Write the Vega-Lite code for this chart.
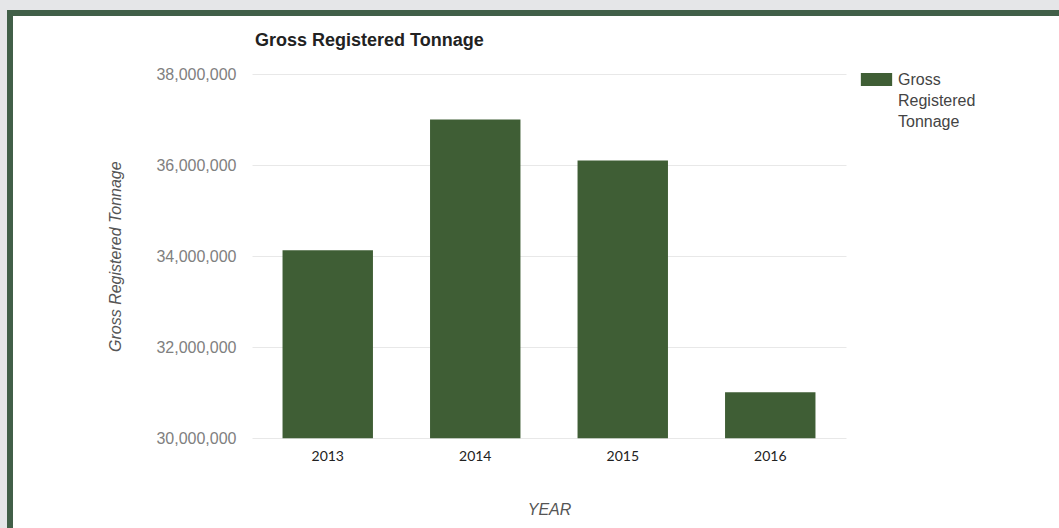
{
  "$schema": "https://vega.github.io/schema/vega-lite/v6.json",
  "autosize": "none",
  "width": 1049,
  "height": 515,
  "padding": {"left": 10, "top": 13, "right": 0, "bottom": 0},
  "background": "#e5e6e8",
  "data": {
    "values": [
      {"year": "2013", "tonnage": 34130000, "series": "Gross Registered Tonnage"},
      {"year": "2014", "tonnage": 37000000, "series": "Gross Registered Tonnage"},
      {"year": "2015", "tonnage": 36100000, "series": "Gross Registered Tonnage"},
      {"year": "2016", "tonnage": 31010000, "series": "Gross Registered Tonnage"}
    ]
  },
  "title": {
    "text": "Gross Registered Tonnage",
    "anchor": "start",
    "frame": "group",
    "dx": 245,
    "dy": 41,
    "font": "Liberation Sans",
    "fontSize": 18,
    "fontWeight": "bold",
    "color": "#222222"
  },
  "mark": {"type": "bar", "color": "#3f5e35"},
  "encoding": {
    "x": {
      "field": "year",
      "type": "nominal",
      "scale": {"range": [242, 836], "paddingInner": 0.387, "paddingOuter": 0.207},
      "axis": {
        "offset": -89,
        "labelAngle": 0,
        "domain": false,
        "ticks": false,
        "labelPadding": 10,
        "labelFont": "Lato",
        "labelFontSize": 14,
        "labelColor": "#222222",
        "title": "YEAR",
        "titleFont": "Liberation Sans",
        "titleFontSize": 16,
        "titleFontStyle": "italic",
        "titleFontWeight": "normal",
        "titleColor": "#555555",
        "titlePadding": 38
      }
    },
    "y": {
      "field": "tonnage",
      "type": "quantitative",
      "scale": {"domain": [30000000, 38000000], "range": [425.3, 61], "zero": false, "nice": false},
      "axis": {
        "values": [30000000, 32000000, 34000000, 36000000, 38000000],
        "format": ",.0f",
        "offset": -242,
        "domain": false,
        "ticks": false,
        "labelPadding": 16,
        "labelFont": "Liberation Sans",
        "labelFontSize": 16,
        "labelColor": "#808080",
        "gridColor": "#e8e8e8",
        "title": "Gross Registered Tonnage",
        "titleFont": "Liberation Sans",
        "titleFontSize": 16,
        "titleFontStyle": "italic",
        "titleFontWeight": "normal",
        "titleColor": "#555555",
        "titlePadding": 32
      }
    },
    "y2": {"datum": 30000000},
    "color": {
      "field": "series",
      "type": "nominal",
      "scale": {"range": ["#3f5e35"]},
      "legend": {
        "title": null,
        "orient": "none",
        "legendX": 853,
        "legendY": 53,
        "symbolType": "M-1.2,-0.5H1.2V0.5H-1.2Z",
        "symbolSize": 680,
        "symbolStrokeWidth": 0,
        "symbolOpacity": 1,
        "labelFont": "Liberation Sans",
        "labelFontSize": 16,
        "labelColor": "#444444",
        "labelExpr": "split(datum.label, ' ')",
        "labelOffset": 8
      }
    }
  },
  "config": {
    "style": {"guide-label": {"lineHeight": 21}},
    "view": {
      "fill": "white",
      "stroke": "#415f48",
      "strokeWidth": 6,
      "strokeDash": [1049, 1564, 515]
    }
  }
}
